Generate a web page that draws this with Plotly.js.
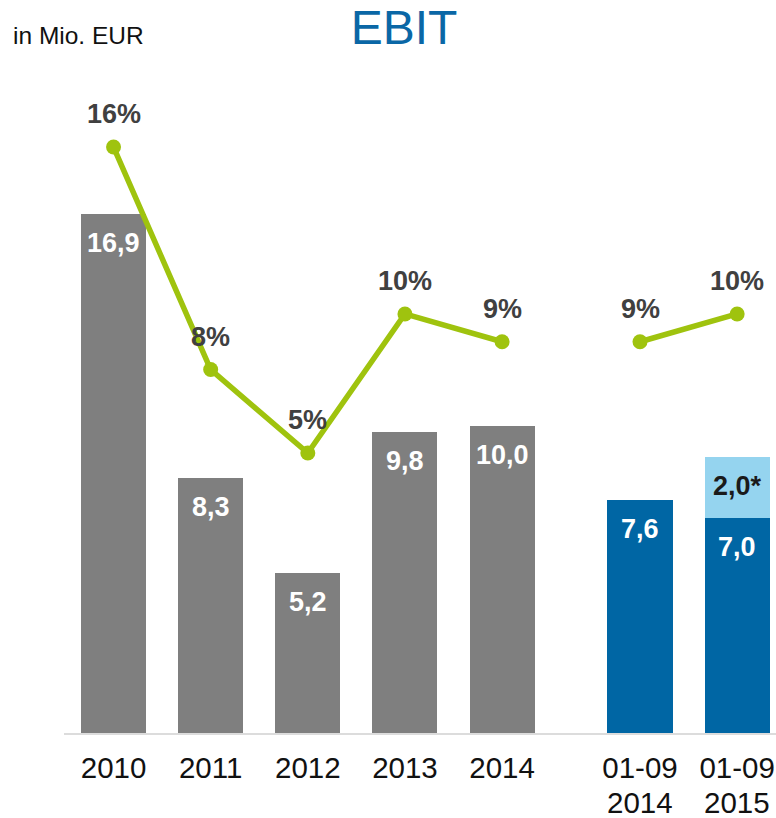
<!DOCTYPE html>
<html>
<head>
<meta charset="utf-8">
<script src="https://cdn.plot.ly/plotly-3.0.1.min.js"></script>
<style>html,body{margin:0;padding:0;background:#fff;}#chart{width:776px;height:818px;}</style>
</head>
<body>
<div id="chart"></div>
<script>
// ---- data ----
const annualCategories = ['2010', '2011', '2012', '2013', '2014'];
const ninemCategories = ['01-09', '01-09'];
const ninemYears = ['2014', '2015'];
const annualEbit = [16.9, 8.3, 5.2, 9.8, 10.0];
const ninemEbit = [7.6, 7.0];
const ninemExtra = [null, 2.0];
const ninemExtraLabels = ['', '2,0*'];
const annualMargin = [16, 8, 5, 10, 9];
const ninemMargin = [9, 10];

// ---- layout helpers ----
const GAP = 0.42;
const annualX = annualCategories.map((c, i) => i);
const ninemX = ninemCategories.map((c, i) => annualCategories.length + GAP + i);
const fmt = v => v.toFixed(1).replace('.', ',');
const FONT = 'Liberation Sans, Arial, sans-serif';
const BARW = 0.67;
const TICKFONT = {family: FONT, size: 29.5, color: '#111111'};

const traces = [
  {type: 'bar', x: annualX, y: annualEbit, width: BARW, marker: {color: '#7f7f7f'}, hoverinfo: 'none'},
  {type: 'bar', x: ninemX, y: ninemEbit, width: BARW, marker: {color: '#0066a4'}, hoverinfo: 'none'},
  {type: 'bar', x: ninemX, y: ninemExtra, width: BARW, marker: {color: '#95d4ef'}, hoverinfo: 'none'},
  {type: 'scatter', mode: 'lines+markers', x: annualX, y: annualMargin, yaxis: 'y2',
   line: {color: '#9fc30e', width: 5.5}, marker: {color: '#9fc30e', size: 15}, hoverinfo: 'none'},
  {type: 'scatter', mode: 'lines+markers', x: ninemX, y: ninemMargin, yaxis: 'y2',
   line: {color: '#9fc30e', width: 5.5}, marker: {color: '#9fc30e', size: 15}, hoverinfo: 'none'}
];

const annotations = [];
annualEbit.forEach((v, i) => annotations.push({x: annualX[i], y: v, xref: 'x', yref: 'y', text: '<b>' + fmt(v) + '</b>',
  showarrow: false, yanchor: 'middle', yshift: -29, font: {family: FONT, size: 27, color: '#ffffff'}}));
ninemEbit.forEach((v, i) => annotations.push({x: ninemX[i], y: v, xref: 'x', yref: 'y', text: '<b>' + fmt(v) + '</b>',
  showarrow: false, yanchor: 'middle', yshift: -29, font: {family: FONT, size: 27, color: '#ffffff'}}));
ninemExtra.forEach((v, i) => { if (v !== null) annotations.push({x: ninemX[i], y: v + ninemEbit[i], xref: 'x', yref: 'y',
  text: '<b>' + ninemExtraLabels[i] + '</b>', showarrow: false, yanchor: 'middle', yshift: -29, font: {family: FONT, size: 27, color: '#1a1a1a'}}); });
annualMargin.forEach((v, i) => annotations.push({x: annualX[i], y: v, xref: 'x', yref: 'y2', text: '<b>' + v + '%</b>',
  showarrow: false, yanchor: 'middle', yshift: 33, font: {family: FONT, size: 27, color: '#404040'}}));
ninemMargin.forEach((v, i) => annotations.push({x: ninemX[i], y: v, xref: 'x', yref: 'y2', text: '<b>' + v + '%</b>',
  showarrow: false, yanchor: 'middle', yshift: 33, font: {family: FONT, size: 27, color: '#404040'}}));
// second line of the 9-month tick labels
ninemYears.forEach((t, i) => annotations.push({x: ninemX[i], y: -0.1073, xref: 'x', yref: 'paper', text: t,
  showarrow: false, yanchor: 'middle', height: 32, valign: 'middle', font: TICKFONT}));
annotations.push({x: -0.075, y: 1.0855, xref: 'paper', yref: 'paper', xanchor: 'left', yanchor: 'middle', text: 'in Mio. EUR',
  showarrow: false, font: {family: FONT, size: 24.5, color: '#111111'}});

const layout = {
  width: 776, height: 818,
  margin: {l: 64, r: 0, t: 90, b: 85},
  paper_bgcolor: '#ffffff', plot_bgcolor: '#ffffff',
  showlegend: false,
  barmode: 'stack',
  title: {text: 'EBIT', font: {family: FONT, size: 48, color: '#0a67a6'}, x: 404 / 776, xanchor: 'center',
    xref: 'container', yref: 'container', y: 1 - 27 / 818, yanchor: 'middle'},
  xaxis: {range: [-0.51, 6.82], tickvals: annualX.concat(ninemX), ticktext: annualCategories.concat(ninemCategories),
    tickfont: TICKFONT, showgrid: false, zeroline: false, ticklabelstandoff: 8,
    showline: true, linecolor: '#dcdcdc', linewidth: 2, ticks: '', fixedrange: true},
  yaxis: {range: [0, 20.94], visible: false, showgrid: false, zeroline: false, fixedrange: true},
  yaxis2: {range: [-5.065, 18.05], overlaying: 'y', visible: false, showgrid: false, zeroline: false, fixedrange: true},
  annotations: annotations
};

Plotly.newPlot('chart', traces, layout, {displayModeBar: false, staticPlot: true});
</script>
</body>
</html>
